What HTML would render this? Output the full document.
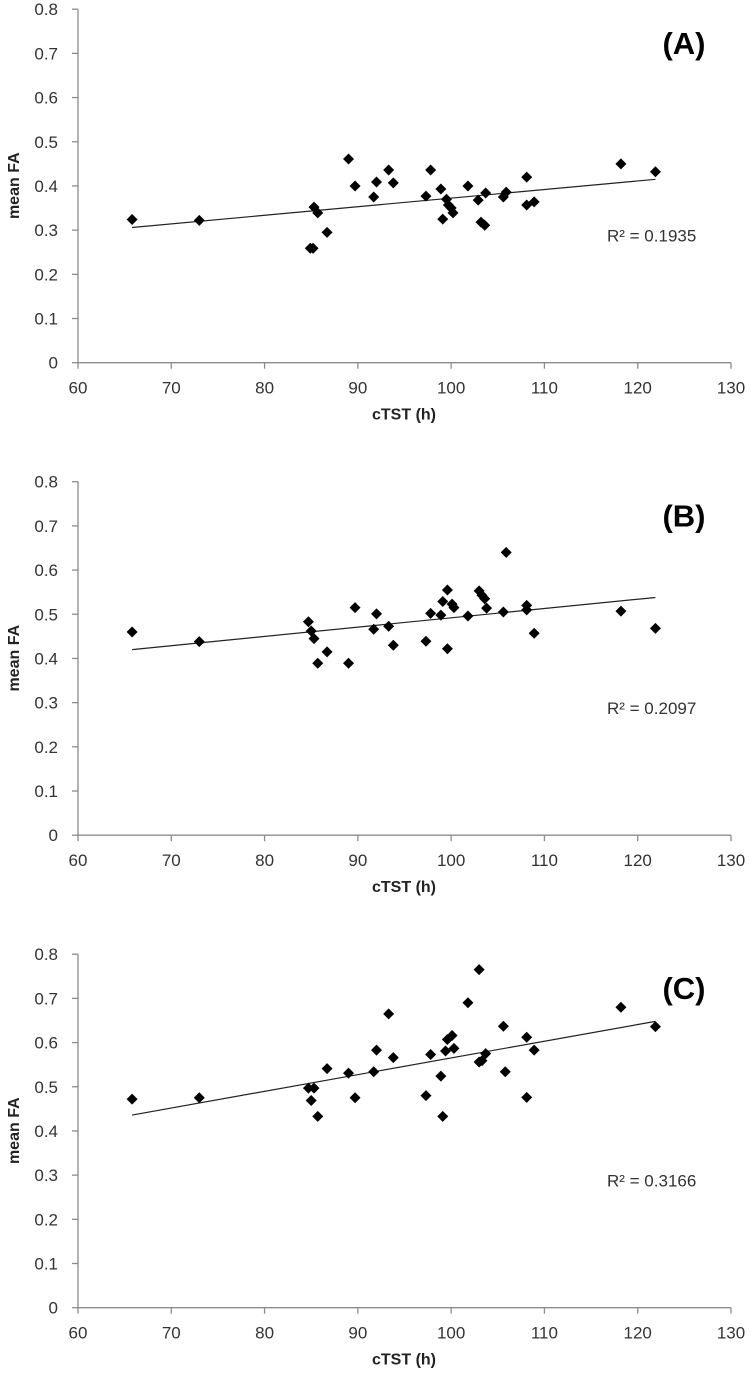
<!DOCTYPE html>
<html><head><meta charset="utf-8"><style>
html,body{margin:0;padding:0;background:#fff;}
svg{display:block;font-family:"Liberation Sans",Calibri,sans-serif;}
</style></head><body>
<svg id="chart" width="750" height="1385" viewBox="0 0 750 1385" xmlns="http://www.w3.org/2000/svg"></svg>
<script>
const xTicks=[60,70,80,90,100,110,120,130];
const yTicks=[0,0.1,0.2,0.3,0.4,0.5,0.6,0.7,0.8];
const panelLabels=["(A)","(B)","(C)"];
const r2Labels=["R² = 0.1935","R² = 0.2097","R² = 0.3166"];
const xA=[65.8,73,84.9,85.2,85.3,85.7,86.7,89.0,89.7,91.7,92.0,93.3,93.8,97.3,97.8,98.9,99.1,99.5,99.7,100.0,100.2,101.8,102.9,103.2,103.6,103.7,105.6,105.9,108.1,108.1,108.9,118.2,121.9];
const yA=[0.324,0.322,0.259,0.259,0.352,0.339,0.295,0.461,0.400,0.375,0.409,0.436,0.407,0.377,0.436,0.393,0.325,0.370,0.357,0.350,0.339,0.400,0.368,0.318,0.311,0.384,0.375,0.386,0.420,0.357,0.364,0.450,0.432];
const xB=[65.8,73,84.7,85.0,85.3,85.7,86.7,89.0,89.7,91.7,92.0,93.3,93.8,97.3,97.8,98.9,99.1,99.6,99.6,100.1,100.3,101.8,103.0,103.3,103.6,103.8,105.6,105.9,108.1,108.1,108.9,118.2,121.9];
const yB=[0.460,0.438,0.483,0.462,0.445,0.389,0.415,0.389,0.515,0.466,0.501,0.473,0.430,0.439,0.502,0.498,0.529,0.555,0.422,0.523,0.515,0.496,0.553,0.543,0.535,0.514,0.505,0.640,0.520,0.510,0.457,0.507,0.468];
const xC=[65.8,73,84.7,85.3,85.0,85.7,86.7,89.0,89.7,91.7,92.0,93.3,93.8,97.3,97.8,98.9,99.1,99.4,99.6,100.1,100.3,101.8,103.0,103.0,103.3,103.7,105.6,105.8,108.1,108.1,108.9,118.2,121.9];
const yC=[0.472,0.475,0.497,0.497,0.469,0.433,0.541,0.531,0.475,0.534,0.583,0.665,0.566,0.480,0.573,0.524,0.433,0.581,0.607,0.616,0.587,0.690,0.765,0.556,0.559,0.575,0.637,0.534,0.612,0.476,0.583,0.680,0.636];
const trendX=[65.8,121.9];
const trendA=[0.306,0.415];
const trendB=[0.420,0.538];
const trendC=[0.436,0.648];
const panels=[[xA,yA,trendA],[xB,yB,trendB],[xC,yC,trendC]];

const NS="http://www.w3.org/2000/svg";
const svg=document.getElementById('chart');
function mk(tag,attrs,parent,text){const e=document.createElementNS(NS,tag);for(const k in attrs)e.setAttribute(k,attrs[k]);if(text!==undefined)e.textContent=text;(parent||svg).appendChild(e);return e;}
const X0=78,X1=731;
function sx(v){return X0+(v-60)/(130-60)*(X1-X0);}
panels.forEach((p,i)=>{
  const base=362.7+i*472.5, top=base-353.5;
  function sy(v){return base-v/0.8*(base-top);}
  const g=mk('g',{});
  
  
  const ya=mk('line',{x1:X0,y1:top,x2:X0,y2:base,stroke:'#8c8c8c','stroke-width':1.3},g);
  
  
  const xa=mk('line',{x1:X0,y1:base,x2:X1,y2:base,stroke:'#8c8c8c','stroke-width':1.3},g);
  
  
  yTicks.forEach(t=>{
    const y=sy(t);
    mk('line',{x1:X0-6,y1:y,x2:X0,y2:y,stroke:'#8c8c8c','stroke-width':1.3},g);
    const tl=mk('text',{x:58,y:y+6,'text-anchor':'end','font-size':17,fill:'#333'},g,String(t));
    
    
  });
  xTicks.forEach(t=>{
    const x=sx(t);
    mk('line',{x1:x,y1:base,x2:x,y2:base+6,stroke:'#8c8c8c','stroke-width':1.3},g);
    const tl=mk('text',{x:x,y:base+31,'text-anchor':'middle','font-size':17,fill:'#333'},g,String(t));
    
    
  });
  const xt=mk('text',{x:404,y:base+57,'text-anchor':'middle','font-size':16,'font-weight':'bold',fill:'#222'},g,'cTST (h)');
  
  
  const cy=base-177;
  const yt=mk('text',{x:0,y:0,transform:`translate(19,${cy}) rotate(-90)`,'text-anchor':'middle','font-size':16,'font-weight':'bold',fill:'#222'},g,'mean FA');
  
  
  const tr=mk('line',{x1:sx(trendX[0]),y1:sy(p[2][0]),x2:sx(trendX[1]),y2:sy(p[2][1]),stroke:'#222','stroke-width':1.2},g);
  
  
  p[0].forEach((xv,j)=>{
    const x=sx(xv),y=sy(p[1][j]),r=5.5;
    const d=mk('polygon',{points:`${x},${y-r} ${x+r},${y} ${x},${y+r} ${x-r},${y}`,fill:'#000'},g);
    
    
  });
  const r2=mk('text',{x:607,y:base-121,'font-size':17,fill:'#333'},g,r2Labels[i]);
  
  
  const pl=mk('text',{x:684,y:top+45,'text-anchor':'middle','font-size':31,'font-weight':'bold',fill:'#000'},g,panelLabels[i]);
  
  
});
</script>
</body></html>
